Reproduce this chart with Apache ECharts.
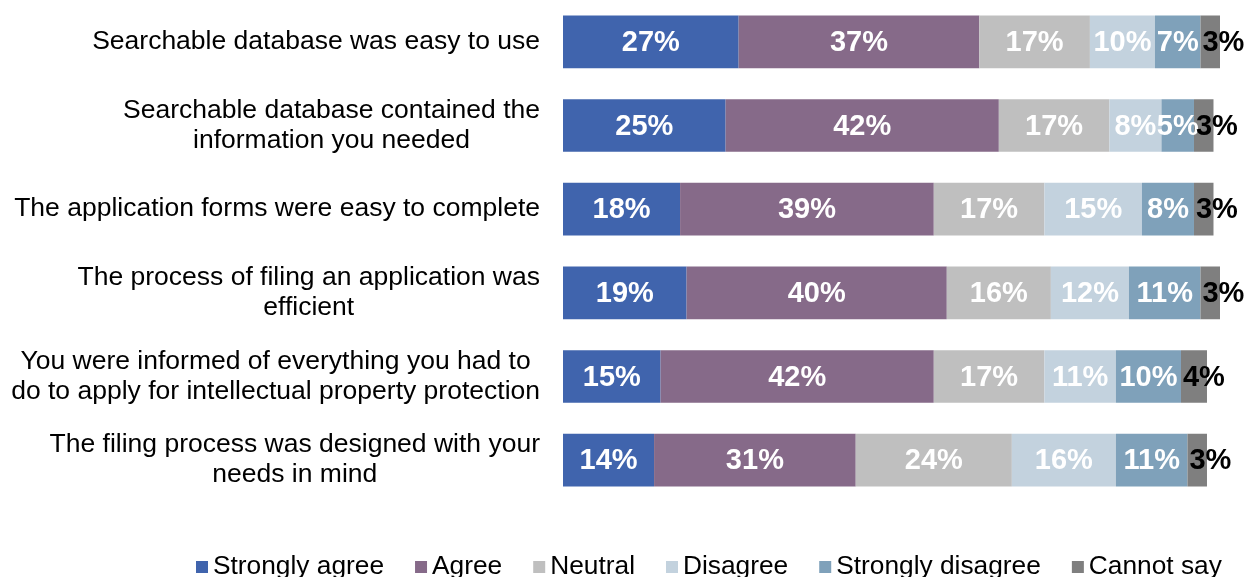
<!DOCTYPE html>
<html>
<head>
<meta charset="utf-8">
<script src="https://cdn.jsdelivr.net/npm/echarts@6/dist/echarts.min.js"></script>
<style>
  html, body { margin: 0; padding: 0; background: #ffffff; }
  #chart { width: 1250px; height: 577px; }
</style>
</head>
<body>
<div id="chart"></div>
<script>
// Survey statements, top to bottom
const categories = [
  'Searchable database was easy to use',
  'Searchable database contained the\ninformation you needed',
  'The application forms were easy to complete',
  'The process of filing an application was\nefficient',
  'You were informed of everything you had to\ndo to apply for intellectual property protection',
  'The filing process was designed with your\nneeds in mind'
];

const seriesNames = ['Strongly agree', 'Agree', 'Neutral', 'Disagree', 'Strongly disagree', 'Cannot say'];

// Percent of respondents per answer, same order as categories
const stronglyAgree    = [27, 25, 18, 19, 15, 14];
const agree            = [37, 42, 39, 40, 42, 31];
const neutral          = [17, 17, 17, 16, 17, 24];
const disagree         = [10, 8, 15, 12, 11, 16];
const stronglyDisagree = [7, 5, 8, 11, 10, 11];
const cannotSay        = [3, 3, 3, 3, 4, 3];

const seriesValues = [stronglyAgree, agree, neutral, disagree, stronglyDisagree, cannotSay];
const colors = ['#4064AD', '#866A89', '#BFBFBF', '#C3D2DE', '#7FA1BA', '#7F7F7F'];

const font = '"Liberation Sans", Arial, sans-serif';

const chart = echarts.init(document.getElementById('chart'), null, { renderer: 'canvas' });

const series = seriesNames.map((name, i) => {
  const last = i === seriesNames.length - 1;
  return {
    name: name,
    type: 'bar',
    stack: 'total',
    barWidth: '63%',
    data: seriesValues[i],
    itemStyle: { color: colors[i] },
    label: {
      show: true,
      position: last ? 'insideLeft' : 'inside',
      distance: 0,
      offset: last ? [2, 1] : [0, 1],
      formatter: '{c}%',
      color: last ? '#000000' : '#ffffff',
      fontFamily: font,
      fontWeight: 'bold',
      fontSize: 29
    },
    emphasis: { disabled: true }
  };
});

chart.setOption({
  animation: false,
  backgroundColor: '#ffffff',
  grid: { left: 563, top: 0, width: 657, height: 502, containLabel: false },
  xAxis: {
    type: 'value',
    min: 0,
    max: 101,
    show: false
  },
  yAxis: {
    type: 'category',
    inverse: true,
    data: categories,
    axisLine: { show: false },
    axisTick: { show: false },
    axisLabel: {
      margin: 23,
      align: 'right',
      formatter: function (v) {
        return v.split('\n').map(function (l) { return '{c|' + l + '}'; }).join('\n');
      },
      rich: {
        c: { align: 'center', fontFamily: font, fontSize: 26.5, color: '#000000', lineHeight: 30 }
      }
    }
  },
  legend: {
    bottom: -8,
    left: 191,
    icon: 'rect',
    itemWidth: 12,
    itemHeight: 12,
    itemGap: 31,
    textStyle: { fontFamily: font, fontSize: 26.3, color: '#000000' },
    data: seriesNames
  },
  series: series
});
</script>
</body>
</html>
